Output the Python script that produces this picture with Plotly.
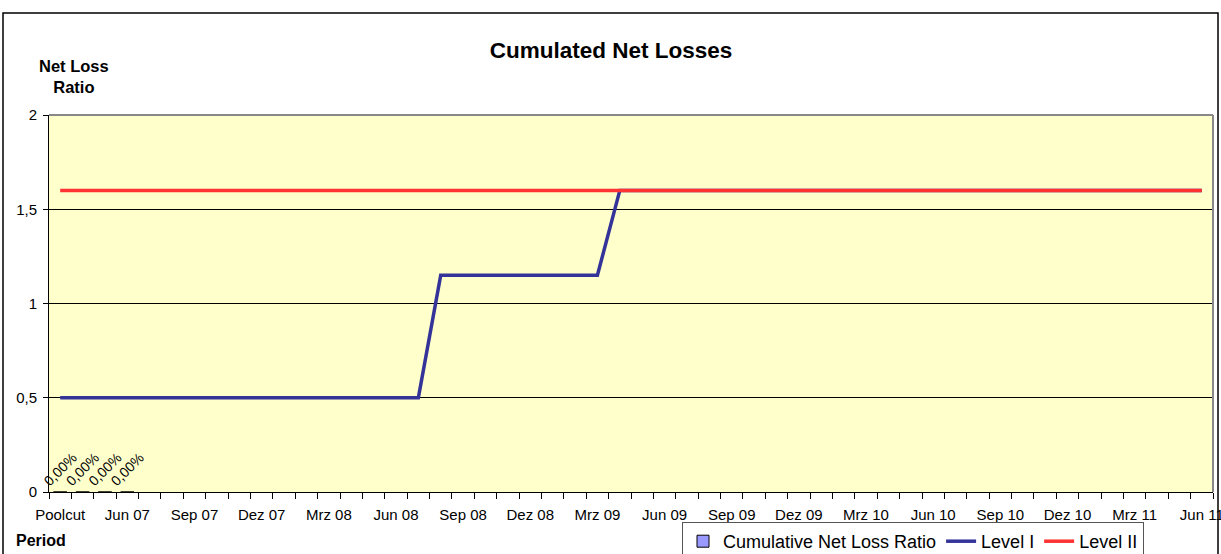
import plotly.graph_objects as go

# ---- data ----
months = ["Jan", "Feb", "Mrz", "Apr", "Mai", "Jun", "Jul", "Aug", "Sep", "Okt", "Nov", "Dez"]
categories = ["Poolcut"]
for yr in range(7, 12):
    for mi, m in enumerate(months):
        if yr == 7 and mi < 3:
            continue
        if yr == 11 and mi > 5:
            continue
        categories.append(f"{m} {yr:02d}")

level_1 = [0.5] * 17 + [1.15] * 8 + [1.6] * 27
level_2 = [1.6] * 52
cum_net_loss = [0.0, 0.0, 0.0, 0.0]
cum_labels = ["0,00%", "0,00%", "0,00%", "0,00%"]

tick_idx = list(range(0, len(categories), 3))
tick_text = [categories[i] for i in tick_idx]
y_ticks = [0, 0.5, 1, 1.5, 2]
y_tick_text = ["0", "0,5", "1", "1,5", "2"]

x = list(range(len(categories)))

FONT = "Liberation Sans, Arial, sans-serif"

fig = go.Figure()
fig.add_trace(go.Bar(
    x=x[:len(cum_net_loss)], y=cum_net_loss, name="Cumulative Net Loss Ratio",
    marker=dict(color="#9999FF", line=dict(color="black", width=1)),
    text=cum_labels, textposition="outside", textangle=-45,
    constraintext="none",
    textfont=dict(size=14, color="black", family=FONT), cliponaxis=False,
    width=0.6,
))
fig.add_trace(go.Scatter(
    x=x, y=level_1, name="Level I", mode="lines",
    line=dict(color="#333399", width=3.5),
))
fig.add_trace(go.Scatter(
    x=x, y=level_2, name="Level II", mode="lines",
    line=dict(color="#FF3333", width=3.5),
))

W, H = 1221, 554
L, R, T, B = 49, 8, 115, 62
pw, ph = W - L - R, H - T - B

def px(xp):
    return (xp - L) / pw

def py(yp):
    return (H - B - yp) / ph

fig.update_layout(
    width=W, height=H,
    margin=dict(l=L, r=R, t=T, b=B, autoexpand=False),
    paper_bgcolor="white", plot_bgcolor="#FFFFCC",
    font=dict(family=FONT, color="black", size=15),
    separators=",.",
    showlegend=True,
    bargap=0.4,
    title=dict(text="<b>Cumulated Net Losses</b>", x=611 / W, xanchor="center",
               y=1 - 50 / H, yanchor="middle", font=dict(size=22.5, family=FONT)),
    legend=dict(orientation="h", x=px(682), xanchor="left", y=py(522), yanchor="top",
                bgcolor="white", bordercolor="#555555", borderwidth=1,
                font=dict(size=18, family=FONT), itemwidth=30,
                tracegroupgap=0),
    xaxis=dict(
        range=[-0.5, len(categories) - 0.5],
        tickmode="array", tickvals=tick_idx, ticktext=tick_text,
        ticks="", showgrid=False, zeroline=False,
        showline=True, linecolor="black", linewidth=1,
        tickfont=dict(size=15), ticklabelstandoff=9,
        ticklabeloverflow="allow",
        minor=dict(tickmode="array", tickvals=[i - 0.5 for i in range(len(categories) + 1)],
                   ticks="outside", ticklen=6, tickcolor="black", tickwidth=1, showgrid=False),
    ),
    yaxis=dict(
        range=[0, 2], tickmode="array", tickvals=y_ticks, ticktext=y_tick_text,
        ticks="outside", ticklen=5, tickcolor="black",
        showgrid=True, gridcolor="black", gridwidth=1,
        zeroline=False, showline=True, linecolor="black", linewidth=1,
        tickfont=dict(size=15), ticklabelstandoff=3,
    ),
    annotations=[
        dict(text="<b>Net Loss<br>Ratio</b>", xref="paper", yref="paper",
             x=px(74), y=py(76), xanchor="center", yanchor="middle",
             showarrow=False, font=dict(size=16.5)),
        dict(text="<b>Period</b>", xref="paper", yref="paper",
             x=px(14), y=py(540), xanchor="left", yanchor="middle",
             showarrow=False, font=dict(size=16)),
    ],
    shapes=[
        # plot area border (top and right in gray)
        dict(type="line", xref="paper", yref="paper", x0=0, x1=1, y0=1, y1=1,
             line=dict(color="#888888", width=2), layer="above"),
        dict(type="line", xref="paper", yref="paper", x0=1, x1=1, y0=0, y1=1,
             line=dict(color="#888888", width=2), layer="above"),
        # outer chart border
        dict(type="rect", xref="paper", yref="paper",
             x0=px(3), x1=px(1218), y0=py(560), y1=py(13),
             line=dict(color="black", width=1.5), fillcolor="rgba(0,0,0,0)", layer="above"),
    ],
)

fig.write_html(
    "out.html",
    config={"displayModeBar": False},
    post_script="document.body.style.margin='0px';document.body.style.overflow='hidden';",
)
